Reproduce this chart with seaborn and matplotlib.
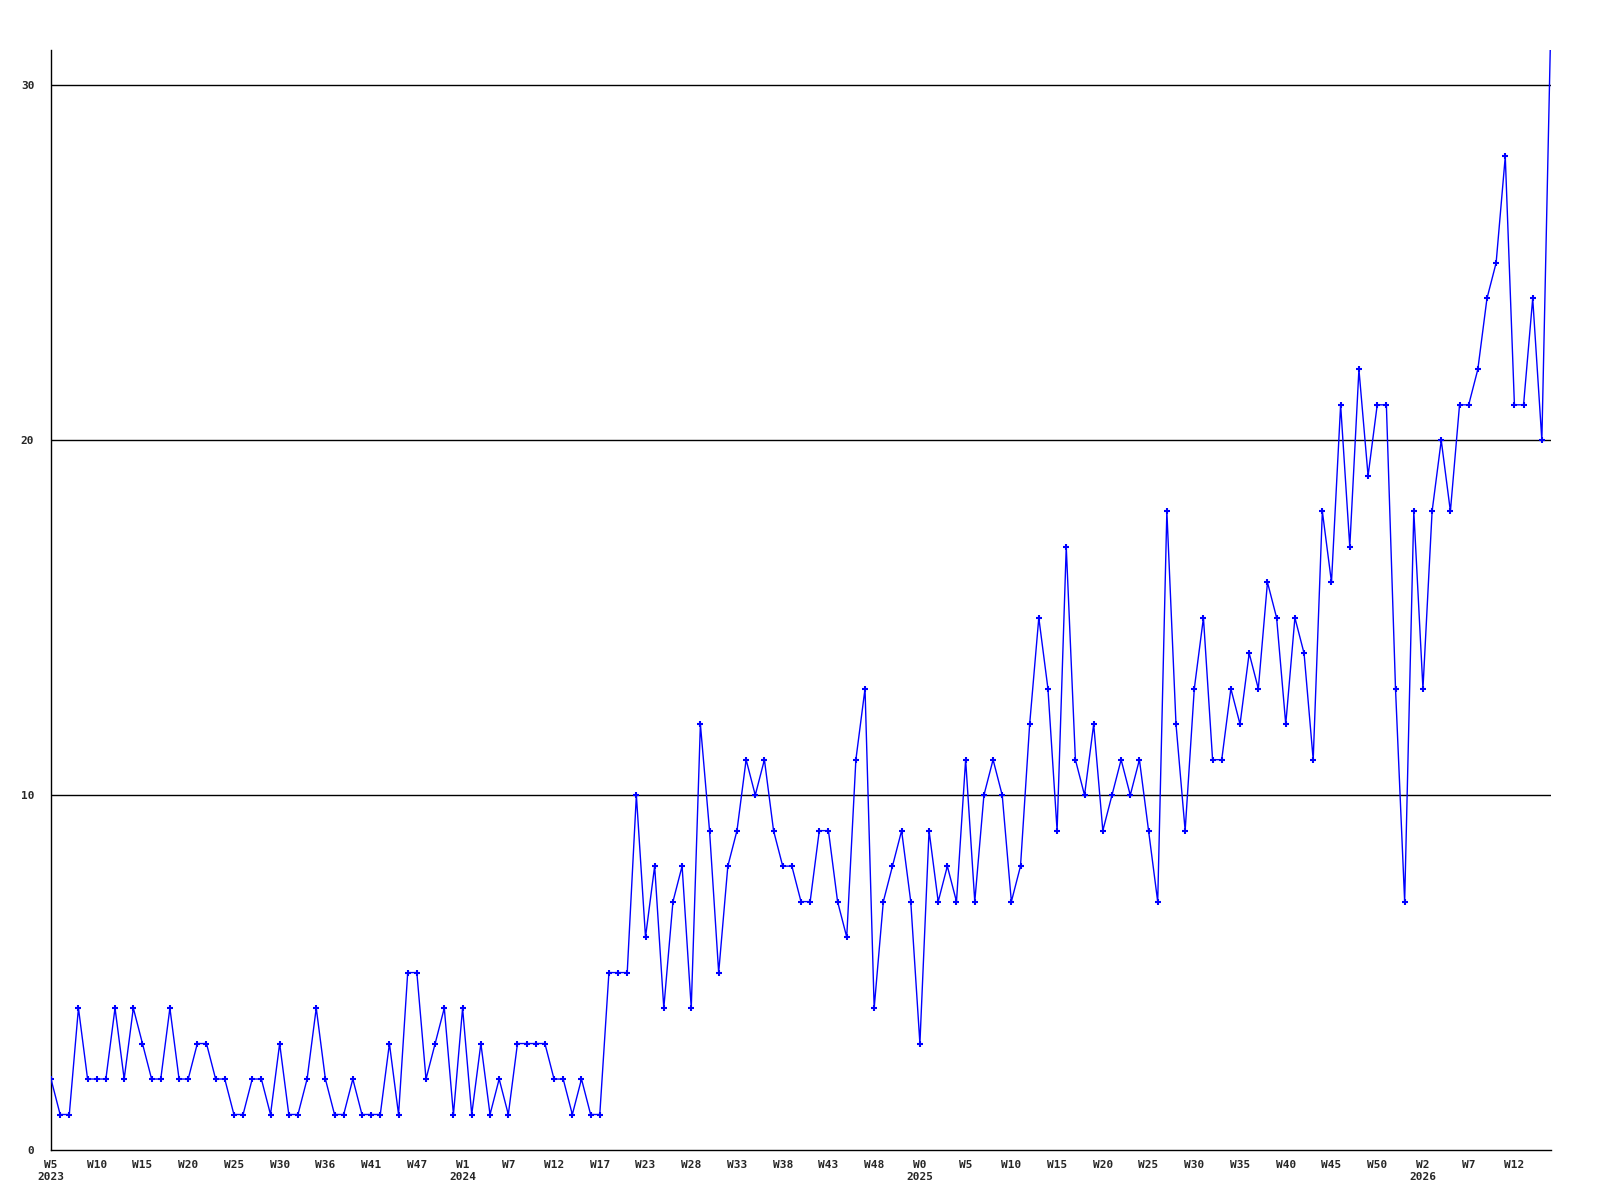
import matplotlib
matplotlib.use("Agg")
import matplotlib.pyplot as plt
import seaborn as sns
import pandas as pd

# weekly counts, W5 2023 .. W16 2026 (last one runs off the top)
counts = [
    2, 1, 1, 4, 2, 2, 2, 4, 2, 4, 3, 2, 2, 4, 2, 2, 3, 3, 2, 2, 1, 1, 2, 2, 1, 3, 1, 1, 2, 4, 2,
    1, 1, 2, 1, 1, 1, 3, 1, 5, 5, 2, 3, 4, 1, 4, 1, 3, 1, 2, 1, 3, 3, 3, 3, 2, 2, 1, 2, 1, 1, 5, 5, 5,
    10, 6, 8, 4, 7, 8, 4, 12, 9, 5, 8, 9, 11, 10, 11, 9, 8, 8, 7, 7, 9, 9, 7, 6, 11, 13, 4, 7, 8, 9, 7,
    3, 9, 7, 8, 7, 11, 7, 10, 11, 10, 7, 8, 12, 15, 13, 9, 17, 11, 10, 12, 9, 10, 11, 10, 11, 9, 7, 18, 12, 9, 13, 15,
    11, 11, 13, 12, 14, 13, 16, 15, 12, 15, 14, 11, 18,
    16, 21, 17, 22, 19, 21, 21, 13, 7, 18, 13, 18, 20, 18, 21, 21, 22, 24, 25, 28, 21, 21, 24, 20, 32,
]

# labelled every fifth week
week_labels = [
    "W5", "W10", "W15", "W20", "W25", "W30", "W36", "W41", "W47", "W1", "W7",
    "W12", "W17", "W23", "W28", "W33", "W38", "W43", "W48", "W0", "W5", "W10",
    "W15", "W20", "W25", "W30", "W35", "W40", "W45", "W50", "W2", "W7", "W12",
]
year_marks = {0: "2023", 9: "2024", 19: "2025", 30: "2026"}

y_ticks = [0, 10, 20, 30]

df = pd.DataFrame({"week": range(len(counts)), "count": counts})

sns.set_style("white")
plt.rcParams["font.family"] = ["DejaVu Sans Mono"]

fig = plt.figure(figsize=(16, 12), dpi=100)
ax = fig.add_axes([51 / 1600, 50 / 1200, 1500 / 1600, 1100 / 1200])

for yv in y_ticks[1:]:
    ax.axhline(yv, color="black", linewidth=1, zorder=1)

sns.lineplot(data=df, x="week", y="count", ax=ax, color="#0000ff",
             linewidth=1, marker="+", markersize=5, markeredgewidth=1.5,
             markeredgecolor="#0000ff", zorder=3)

ax.set_xlim(0, len(counts) - 1)
ax.set_ylim(0, 31)

tick_pos = list(range(0, len(counts), 5))[:len(week_labels)]
labels = []
for i, w in enumerate(week_labels):
    labels.append(w + "\n" + year_marks[i] if i in year_marks else w)
ax.set_xticks(tick_pos)
ax.set_xticklabels(labels, fontsize=8, fontweight="bold", linespacing=1.3)
ax.set_yticks(y_ticks)
ax.set_yticklabels([str(v) for v in y_ticks], fontsize=8, fontweight="bold")
ax.tick_params(axis="x", length=0, pad=7)
ax.tick_params(axis="y", length=0, pad=12)

ax.set_xlabel("")
ax.set_ylabel("")
for side in ["top", "right"]:
    ax.spines[side].set_visible(False)
for side in ["left", "bottom"]:
    ax.spines[side].set_color("black")
    ax.spines[side].set_linewidth(1)

fig.savefig("out.png", dpi=100)
